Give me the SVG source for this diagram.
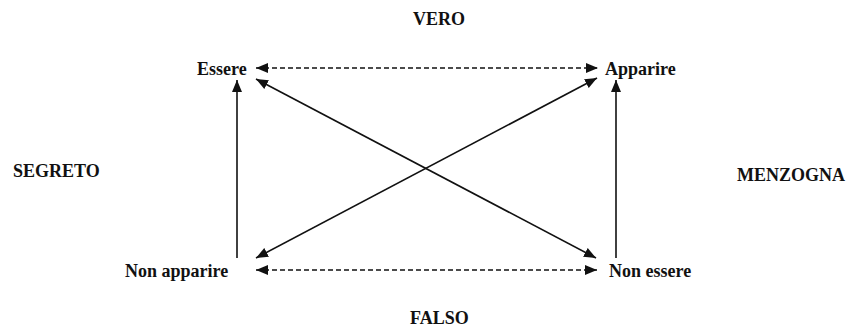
<svg xmlns="http://www.w3.org/2000/svg" width="849" height="331" viewBox="0 0 849 331">
<defs>
<style>
text{font-family:"Liberation Serif","Times New Roman",serif;font-weight:bold;font-size:18px;fill:#111}
.c{stroke:#111;stroke-width:1.6;fill:none}
.d{stroke-dasharray:5 3}
</style>
<marker id="ah" viewBox="0 0 12 10" refX="12" refY="5" markerWidth="12" markerHeight="10" markerUnits="userSpaceOnUse" orient="auto-start-reverse">
<path d="M0,0 L12,5 L0,10 Z" fill="#111"/>
</marker>
</defs>
<rect width="849" height="331" fill="#fff"/>
<g id="connectors">
<line class="c d" x1="256" y1="68" x2="598" y2="68" marker-start="url(#ah)" marker-end="url(#ah)"/>
<line class="c d" x1="256" y1="270" x2="597" y2="270" marker-start="url(#ah)" marker-end="url(#ah)"/>
<line class="c" x1="237" y1="258" x2="237" y2="80" marker-end="url(#ah)"/>
<line class="c" x1="616" y1="258" x2="616" y2="80" marker-end="url(#ah)"/>
<line class="c" x1="256" y1="79" x2="596" y2="258" marker-start="url(#ah)" marker-end="url(#ah)"/>
<line class="c" x1="256" y1="258" x2="597" y2="78" marker-start="url(#ah)" marker-end="url(#ah)"/>
</g>
<g id="vero"><text x="413" y="25">VERO</text></g>
<g id="falso"><text x="410" y="324">FALSO</text></g>
<g id="segreto"><text x="13" y="177">SEGRETO</text></g>
<g id="menzogna"><text x="737" y="181">MENZOGNA</text></g>
<g id="essere"><text x="197" y="75">Essere</text></g>
<g id="apparire"><text x="605" y="75">Apparire</text></g>
<g id="non-apparire"><text x="125" y="277">Non apparire</text></g>
<g id="non-essere"><text x="609" y="277">Non essere</text></g>
</svg>
